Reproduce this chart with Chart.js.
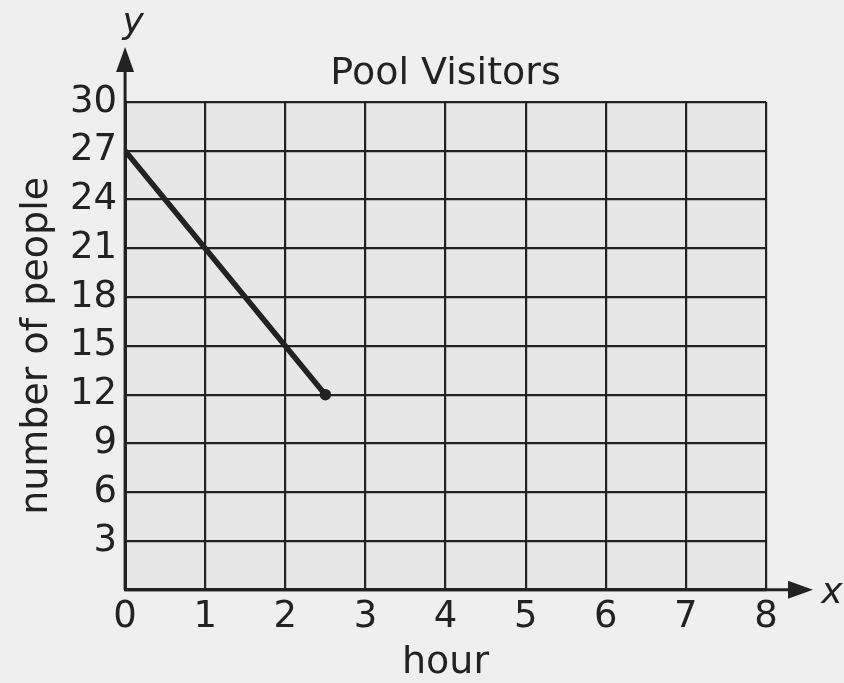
<!DOCTYPE html>
<html>
<head>
<meta charset="utf-8">
<script src="https://cdn.jsdelivr.net/npm/chart.js@4"></script>
<style>
  html, body { margin: 0; padding: 0; background: #efefef; }
  #wrap { width: 844px; height: 683px; }
</style>
</head>
<body>
<div id="wrap"><canvas id="c" width="844" height="683"></canvas></div>
<script>
// Данные графика: посетители бассейна по часам
const hours = [0, 2.5];
const people = [27, 12];
const xTicks = [0, 1, 2, 3, 4, 5, 6, 7, 8];
const yTicks = [0, 3, 6, 9, 12, 15, 18, 21, 24, 27, 30];

const INK = "#222";
const FONT = "'DejaVu Sans'";

// Фон области графика + стрелки осей и подписи x / y
const axesPlugin = {
  id: "axesArrows",
  beforeDraw(chart) {
    const { ctx, chartArea: a } = chart;
    ctx.save();
    ctx.fillStyle = "#e7e7e7";
    ctx.fillRect(a.left, a.top, a.right - a.left, a.bottom - a.top);
    ctx.restore();
  },
  afterDraw(chart) {
    const { ctx, chartArea: a } = chart;
    ctx.save();
    ctx.strokeStyle = INK;
    ctx.fillStyle = INK;
    ctx.lineWidth = 3;
    // ось y вверх
    ctx.beginPath();
    ctx.moveTo(a.left, a.bottom);
    ctx.lineTo(a.left, a.top - 32);
    ctx.stroke();
    ctx.beginPath();
    ctx.moveTo(a.left, a.top - 55);
    ctx.lineTo(a.left - 9, a.top - 30);
    ctx.lineTo(a.left + 9, a.top - 30);
    ctx.closePath();
    ctx.fill();
    // ось x вправо
    ctx.beginPath();
    ctx.moveTo(a.left, a.bottom);
    ctx.lineTo(a.right + 25, a.bottom);
    ctx.stroke();
    ctx.beginPath();
    ctx.moveTo(a.right + 47, a.bottom);
    ctx.lineTo(a.right + 22, a.bottom - 9);
    ctx.lineTo(a.right + 22, a.bottom + 9);
    ctx.closePath();
    ctx.fill();
    ctx.font = "italic 36px " + FONT;
    ctx.textAlign = "center";
    ctx.textBaseline = "middle";
    ctx.fillText("y", a.left + 8, a.top - 78);
    ctx.fillText("x", a.right + 66, a.bottom + 4);
    ctx.restore();
  },
};

new Chart(document.getElementById("c"), {
  type: "scatter",
  data: {
    datasets: [
      {
        data: hours.map((h, i) => ({ x: h, y: people[i] })),
        showLine: true,
        borderColor: INK,
        backgroundColor: INK,
        borderWidth: 5.5,
        borderCapStyle: "round",
        pointRadius: [0, 3],
        tension: 0,
      },
    ],
  },
  options: {
    responsive: false,
    animation: false,
    layout: {
      padding: { left: 18, right: 78, top: 0, bottom: 2 },
    },
    plugins: {
      legend: { display: false },
      tooltip: { enabled: false },
      title: {
        display: true,
        fullSize: false,
        text: "Pool Visitors",
        color: INK,
        font: { family: FONT, size: 38, weight: "normal", lineHeight: 1 },
        padding: { top: 55, bottom: 9 },
      },
    },
    scales: {
      x: {
        type: "linear",
        min: xTicks[0],
        max: xTicks[xTicks.length - 1],
        afterBuildTicks(scale) {
          scale.ticks = xTicks.map((v) => ({ value: v }));
        },
        grid: { color: INK, lineWidth: 2.2, drawTicks: false },
        border: { color: INK, width: 3 },
        ticks: {
          color: INK,
          padding: 10,
          font: { family: FONT, size: 37, lineHeight: 0.95 },
        },
        title: {
          display: true,
          text: "hour",
          color: INK,
          font: { family: FONT, size: 38, lineHeight: 0.95 },
          padding: { top: 0, bottom: 0 },
        },
      },
      y: {
        type: "linear",
        min: yTicks[0],
        max: yTicks[yTicks.length - 1],
        afterBuildTicks(scale) {
          scale.ticks = yTicks.map((v) => ({ value: v }));
        },
        grid: { color: INK, lineWidth: 2.2, drawTicks: false },
        border: { color: INK, width: 3 },
        ticks: {
          color: INK,
          padding: 8,
          font: { family: FONT, size: 37, lineHeight: 1 },
          callback: (v) => (v === 0 ? "" : v),
        },
        title: {
          display: true,
          text: "number of people",
          color: INK,
          font: { family: FONT, size: 38, lineHeight: 1 },
          padding: { top: 0, bottom: 6 },
        },
      },
    },
  },
  plugins: [axesPlugin],
});
</script>
</body>
</html>
